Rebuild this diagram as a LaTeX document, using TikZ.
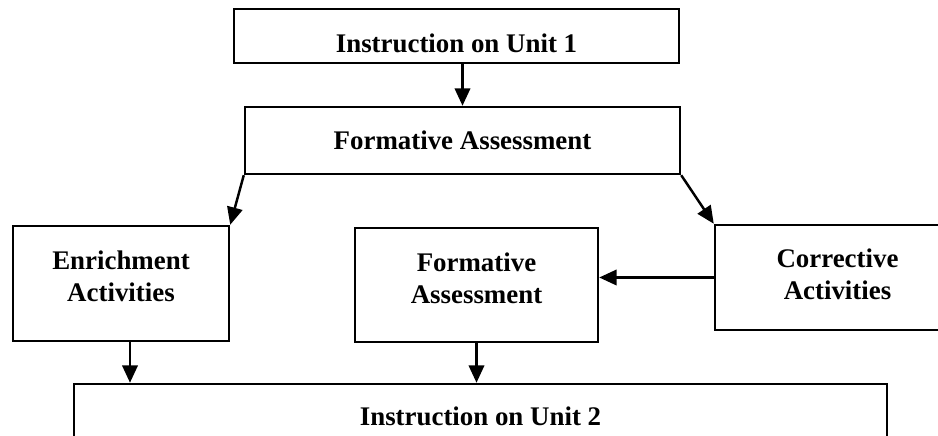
\documentclass[tikz,border=0pt]{standalone}
\usepackage{fontspec}
\setmainfont{Liberation Serif}
\usepackage{tikz}
\usetikzlibrary{arrows.meta}

\tikzset{
	box/.style={draw, line width=1.4pt, align=center, inner sep=0pt,
		font=\fontsize{15.3}{18}\selectfont\bfseries},
	arr/.style={line width=1.4pt, -{Triangle[length=3.5mm,width=3.1mm]}}
}

\begin{document}
\begin{tikzpicture}
	\useasboundingbox (0,0) rectangle (18.76,8.72);
	% Boxes
	\node[box, minimum width=8.9cm, minimum height=1.08cm, text height=19pt] (unit1) at (9.13,8.0) {Instruction on Unit 1};
	\node[box, minimum width=8.7cm, minimum height=1.34cm] (fa) at (9.25,5.91) {Formative Assessment};
	\node[box, minimum width=4.32cm, minimum height=2.3cm, text depth=8pt] (enrich) at (2.42,3.05) {Enrichment\\Activities};
	\node[box, minimum width=4.86cm, minimum height=2.28cm, text depth=8pt] (fa2) at (9.53,3.02) {Formative\\Assessment};
	\node[box, minimum width=4.9cm, minimum height=2.1cm, text depth=4pt] (corr) at (16.75,3.17) {Corrective\\Activities};
	\node[box, minimum width=16.26cm, minimum height=1.28cm] (unit2) at (9.61,0.4) {Instruction on Unit 2};
	% Arrows
	\draw[arr] (unit1.south -| fa.north) -- (fa.north);
	\draw[arr] (fa.south west) -- (enrich.north east);
	\draw[arr] (fa.south east) -- (corr.north west);
	\draw[arr] (corr.west) -- (fa2.east |- corr.west);
	\draw[arr] ([xshift=0.18cm]enrich.south) -- ([xshift=0.18cm]enrich.south |- unit2.north);
	\draw[arr] (fa2.south) -- (fa2.south |- unit2.north);
\end{tikzpicture}
\end{document}
